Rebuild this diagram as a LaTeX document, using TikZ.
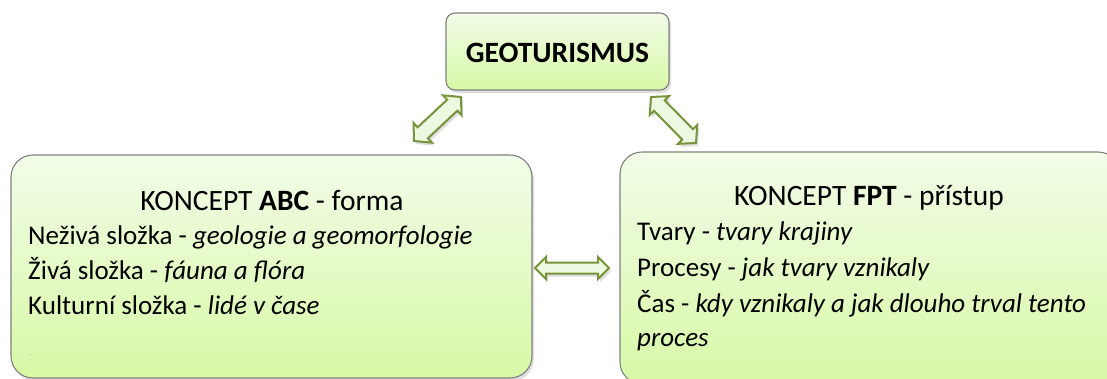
\documentclass[tikz,border=0pt]{standalone}
\usepackage{fontspec}
\setmainfont{Carlito}
\usetikzlibrary{calc,shadows}
\definecolor{boxtop}{RGB}{242,252,232}
\definecolor{boxbot}{RGB}{216,249,166}
\definecolor{boxline}{RGB}{128,128,128}
\definecolor{arrline}{RGB}{119,147,60}
\definecolor{arrfill}{RGB}{238,249,226}
\tikzset{
  box/.style={draw=boxline, line width=1.1bp, rounded corners=#1, top color=boxtop, bottom color=boxbot,
    drop shadow={opacity=0.25, shadow xshift=2bp, shadow yshift=-3bp}, inner sep=0pt},
  body/.style={font=\fontsize{27bp}{34bp}\selectfont, inner sep=0pt, anchor=base west},
  head/.style={font=\fontsize{29.5bp}{34bp}\selectfont, inner sep=0pt, anchor=base},
  blockarrow/.style={draw=arrline, fill=arrfill, line width=2bp, line join=miter,
    drop shadow={opacity=0.25, shadow xshift=2bp, shadow yshift=-3bp}}
}
% #1,#2 end coordinates, #3 head length, #4 head half width, #5 shaft half width
\newcommand\dblarrow[5]{%
  \draw[blockarrow] (#1)
    -- ($(#1)!#3!(#2)!#4!90:(#2)$) -- ($(#1)!#3!(#2)!#5!90:(#2)$)
    -- ($(#2)!#3!(#1)!#5!-90:(#1)$) -- ($(#2)!#3!(#1)!#4!-90:(#1)$)
    -- (#2)
    -- ($(#2)!#3!(#1)!#4!90:(#1)$) -- ($(#2)!#3!(#1)!#5!90:(#1)$)
    -- ($(#1)!#3!(#2)!#5!-90:(#2)$) -- ($(#1)!#3!(#2)!#4!-90:(#2)$)
    -- cycle;}
\begin{document}
\begin{tikzpicture}[x=1bp,y=-1bp]
\useasboundingbox (0,0) rectangle (1107,378);
\clip (0,0) rectangle (1107,378);
% boxes
\node[box=9bp, minimum width=223bp, minimum height=77bp] (geo) at (557.5,51.5) {};
\node[box=22bp, minimum width=521bp, minimum height=223bp] (abc) at (271.5,266.5) {};
\node[box=22bp, minimum width=500bp, minimum height=232bp] (fpt) at (870,268) {};
% top title
\node[inner sep=0pt, anchor=base, font=\fontsize{29.5bp}{34bp}\selectfont\bfseries] (geot) at (557.5,62) {GEOTURISMUS};
% left box text
\node[head] (abct) at (272,210) {KONCEPT \textbf{ABC} - forma};
\node[body] (abc1) at (28,244) {Neživá složka - \textit{geologie a geomorfologie}};
\node[body] (abc2) at (28,279) {Živá složka - \textit{fáuna a flóra}};
\node[body] (abc3) at (28,314) {Kulturní složka - \textit{lidé v čase}};
\node[inner sep=0pt, font=\fontsize{10bp}{12bp}\selectfont, text=black!30, anchor=base west] (abcdot) at (29,355) {.};
% right box text
\node[head] (fptt) at (869,205) {KONCEPT \textbf{FPT} - přístup};
\node[body] (fpt1) at (637,240) {Tvary - \textit{tvary krajiny}};
\node[body] (fpt2) at (637,276) {Procesy - \textit{jak tvary vznikaly}};
\node[body] (fpt3) at (637,312) {Čas - \textit{kdy vznikaly a jak dlouho trval tento}};
\node[body] (fpt3b) at (637,346) {\textit{proces}};
% arrows
\coordinate (la) at (414,141);
\coordinate (lb) at (461,97);
\coordinate (ra) at (651,97);
\coordinate (rb) at (696,143);
\coordinate (ha) at (535,268);
\coordinate (hb) at (609,268);
\dblarrow{la}{lb}{12bp}{13.5bp}{7.5bp}
\dblarrow{ra}{rb}{12bp}{13.5bp}{7.5bp}
\dblarrow{ha}{hb}{11bp}{11bp}{5.5bp}
\end{tikzpicture}
\end{document}
